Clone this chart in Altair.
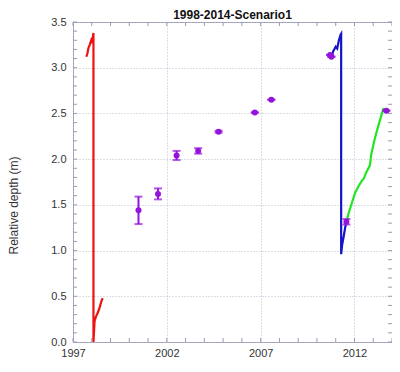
import altair as alt
import pandas as pd

# ---- data ----
red_x = [1997.71, 1997.76, 1997.83, 1997.89, 1997.97, 1998.02, 1998.09, 1998.09,
         1998.15, 1998.23, 1998.32, 1998.41, 1998.49, 1998.58]
red_y = [3.12, 3.15, 3.22, 3.25, 3.30, 3.27, 3.38, 0.0,
         0.23, 0.28, 0.32, 0.37, 0.43, 0.48]

blue_x = [2010.65, 2010.77, 2010.87, 2011.00, 2011.08, 2011.17, 2011.26, 2011.29,
          2011.29, 2011.34, 2011.43, 2011.52, 2011.57]
blue_y = [3.14, 3.12, 3.18, 3.23, 3.21, 3.30, 3.36, 3.37,
          0.96, 1.06, 1.16, 1.27, 1.31]

green_x = [2011.57, 2011.69, 2011.86, 2012.03, 2012.21, 2012.38, 2012.50, 2012.64,
           2012.82, 2012.90, 2013.08, 2013.25, 2013.42, 2013.55]
green_y = [1.31, 1.41, 1.52, 1.63, 1.70, 1.76, 1.79, 1.86,
           1.93, 2.06, 2.22, 2.35, 2.47, 2.56]

obs_x = [2000.49, 2001.53, 2002.52, 2003.67, 2004.76, 2006.69, 2007.57,
         2010.70, 2010.77, 2011.57, 2013.70]
obs_y = [1.44, 1.62, 2.04, 2.09, 2.30, 2.51, 2.65, 3.14, 3.12, 1.315, 2.53]
obs_err = [0.15, 0.06, 0.05, 0.03, 0.01, 0.0, 0.0, 0.0, 0.0, 0.03, 0.0]

title_text = ["1998-2014-Scenario1"]
x_ticks = [1997, 2002, 2007, 2012]
y_ticks = [0.0, 0.5, 1.0, 1.5, 2.0, 2.5, 3.0, 3.5]
x_minor = list(range(1997, 2015))
y_minor = [i / 10 for i in range(36)]

W, H = 319, 320
FRAME = "#9a9ab4"
FONT = "Liberation Sans"

xs = alt.Scale(domain=[1997, 2014], nice=False, zero=False)
ys = alt.Scale(domain=[0, 3.5], nice=False, zero=False)


def series(xv, yv):
    return pd.DataFrame({"x": xv, "y": yv, "o": list(range(len(xv)))})


obs = pd.DataFrame({
    "x": obs_x, "y": obs_y,
    "lo": [a - b for a, b in zip(obs_y, obs_err)],
    "hi": [a + b for a, b in zip(obs_y, obs_err)],
})

X = alt.X("x:Q", scale=xs, title=None,
          axis=alt.Axis(values=x_ticks, format="d"))
Y = alt.Y("y:Q", scale=ys, title="Relative depth (m)",
          axis=alt.Axis(values=y_ticks, format=".1f"))

base_grid = alt.Chart(obs).mark_point(opacity=0).encode(x=X, y=Y)


def line(df, color):
    return alt.Chart(df).mark_line(color=color, strokeWidth=2.2, clip=True).encode(
        x=alt.X("x:Q", scale=xs), y=alt.Y("y:Q", scale=ys), order="o:Q")


red = line(series(red_x, red_y), "#ee1111")
blue = line(series(blue_x, blue_y), "#1414c8")
green = line(series(green_x, green_y), "#22e622")

PURPLE = "#9414dc"
err = alt.Chart(obs).mark_rule(color=PURPLE, strokeWidth=2).encode(
    x=alt.X("x:Q", scale=xs), y=alt.Y("lo:Q", scale=ys), y2="hi:Q")
cap_lo = alt.Chart(obs).mark_tick(color=PURPLE, thickness=2, size=8, orient="horizontal").encode(
    x=alt.X("x:Q", scale=xs), y=alt.Y("lo:Q", scale=ys))
cap_hi = alt.Chart(obs).mark_tick(color=PURPLE, thickness=2, size=8, orient="horizontal").encode(
    x=alt.X("x:Q", scale=xs), y=alt.Y("hi:Q", scale=ys))
pts = alt.Chart(obs).mark_circle(color=PURPLE, size=36, opacity=1).encode(
    x=alt.X("x:Q", scale=xs), y=alt.Y("y:Q", scale=ys))

# inward frame ticks
dx = pd.DataFrame({"t": x_minor})
dy = pd.DataFrame({"t": y_minor})
tb = alt.Chart(dx).mark_rule(color=FRAME).encode(
    x=alt.X("t:Q", scale=xs), y=alt.value(H), y2=alt.value(H - 4))
tt = alt.Chart(dx).mark_rule(color=FRAME).encode(
    x=alt.X("t:Q", scale=xs), y=alt.value(0), y2=alt.value(4))
tl = alt.Chart(dy).mark_rule(color=FRAME).encode(
    y=alt.Y("t:Q", scale=ys), x=alt.value(0), x2=alt.value(4))
tr = alt.Chart(dy).mark_rule(color=FRAME).encode(
    y=alt.Y("t:Q", scale=ys), x=alt.value(W), x2=alt.value(W - 4))

# title as a text mark placed just above the plot
title = alt.Chart(pd.DataFrame({"t": title_text})).mark_text(
    font=FONT, fontSize=12, fontWeight="bold", color="#111111",
    align="center", baseline="alphabetic"
).encode(text="t:N", x=alt.value(W / 2), y=alt.value(-3))

chart = alt.layer(base_grid, tb, tt, tl, tr, red, blue, green, err, cap_lo, cap_hi, pts, title).properties(
    width=W, height=H,
    autosize=alt.AutoSizeParams(type="none"),
    padding={"left": 65, "top": 14, "right": 0, "bottom": 17},
).configure_view(
    stroke=FRAME, strokeWidth=1
).configure_axis(
    domain=False, ticks=False, grid=True, gridColor="#bdbdd2", gridDash=[1, 2],
    gridWidth=1, labelFont=FONT, labelFontSize=11, labelColor="#333333",
    titleFont=FONT, titleFontSize=12, titleFontWeight="normal", titleColor="#333333",
    labelFlush=False,
).configure_axisX(
    labelPadding=5
).configure_axisY(
    labelPadding=7, titleX=-53, titleY=183, titleAngle=-90, titleAlign="center",
    titleBaseline="bottom"
)

chart.save("out.html", embed_options={"renderer": "svg", "actions": False})
